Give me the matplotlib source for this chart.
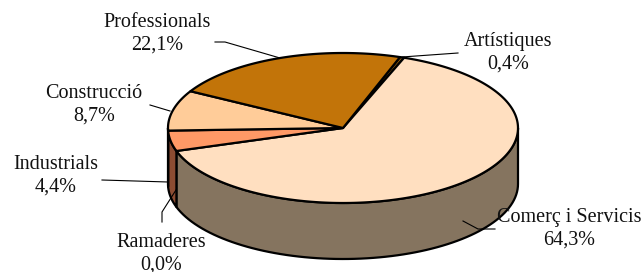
import numpy as np
import matplotlib.pyplot as plt
from matplotlib.patches import Polygon

# Excel style 3D pie, slices in clockwise order from the first-slice angle
labels = ['Artístiques', 'Comerç i Servicis', 'Ramaderes', 'Industrials',
          'Construcció', 'Professionals']
values = [0.4, 64.3, 0.0, 4.4, 8.7, 22.1]
pct_text = ['0,4%', '64,3%', '0,0%', '4,4%', '8,7%', '22,1%']
top_colors = ['#8a5a10', '#ffdfc0', '#ff9966', '#ff9966', '#ffcc99', '#c27409']
side_colors = ['#5a3a08', '#85745f', '#8c4c32', '#8c4c32', '#8a6a50', '#6a4005']

# geometry in pixels
cx, cy, rx, ry, depth = 343, 128, 175, 75, 56
first_angle = 19.0  # degrees clockwise from 12 o'clock

# label centres and leader lines (pixels)
label_pos = [(508, 53), (569, 229), (161, 254), (56, 176), (94, 105), (157, 34)]
leaders = [
    [(402, 57), (458, 53)],
    [(463, 221), (478, 229), (495, 229)],
    [(176, 190), (162, 212), (162, 222)],
    [(168, 182), (102, 180)],
    [(170, 111), (150, 105)],
    [(280, 58), (225, 42), (215, 42)],
]

fig = plt.figure(figsize=(6.42, 2.72), dpi=100)
ax = fig.add_axes([0, 0, 1, 1])
ax.set_xlim(0, 642)
ax.set_ylim(272, 0)
ax.axis('off')

tot = sum(values)
cum = np.cumsum([0] + values) / tot * 360.0
# math angles (counter-clockwise from 3 o'clock)
starts = 90 - first_angle - cum[:-1]
ends = 90 - first_angle - cum[1:]


def pt(a, dy=0.0):
    r = np.radians(a)
    return cx + rx * np.cos(r), cy - ry * np.sin(r) + dy


# side walls: only the front half (math angle between 180 and 360) is visible
for i in range(len(values)):
    a1, a0 = starts[i], ends[i]  # a0 < a1
    for shift in (-360, 0, 360):
        lo = max(a0 + shift, -180)
        hi = min(a1 + shift, 0)
        if hi - lo <= 0.01:
            continue
        th = np.linspace(lo, hi, 80)
        topx, topy = pt(th)
        botx, boty = pt(th[::-1], depth)
        poly = np.column_stack([np.concatenate([topx, botx]),
                                np.concatenate([topy, boty])])
        ax.add_patch(Polygon(poly, closed=True, facecolor=side_colors[i],
                             edgecolor='black', lw=1.6, joinstyle='round'))

# top face
for i in range(len(values)):
    if values[i] == 0:
        continue
    th = np.linspace(starts[i], ends[i], 200)
    x, y = pt(th)
    poly = np.column_stack([np.concatenate([[cx], x]),
                            np.concatenate([[cy], y])])
    ax.add_patch(Polygon(poly, closed=True, facecolor=top_colors[i],
                         edgecolor='black', lw=1.6, joinstyle='round'))

for (lx, ly), lab, p, ln in zip(label_pos, labels, pct_text, leaders):
    xs, ys = zip(*ln)
    ax.plot(xs, ys, color='black', lw=0.8)
    ax.text(lx, ly, lab + '\n' + p, ha='center', va='center',
            family='Liberation Serif', fontsize=14.5, linespacing=1.25,
            color='#111111')

fig.savefig('out.png', dpi=100)
